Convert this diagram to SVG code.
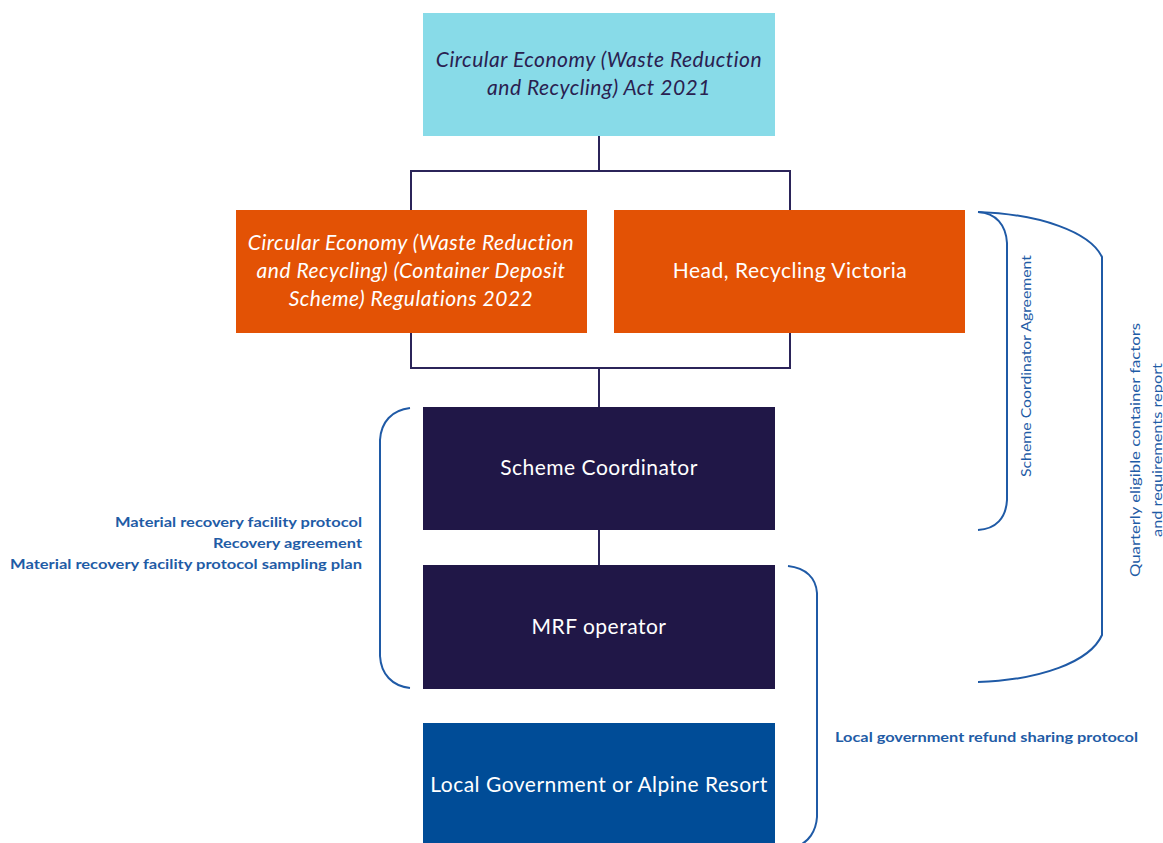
<svg xmlns="http://www.w3.org/2000/svg" width="1163" height="843" viewBox="0 0 1163 843">
  <style>
    .box-text { font-family: Lato, "Liberation Sans", sans-serif; font-size: 21px; letter-spacing: 0.5px; text-anchor: middle; }
    .italic { font-style: italic; }
    .light { fill: #ffffff; }
    .dark { fill: #2a2150; }
    .link { fill: none; stroke: #2b2459; stroke-width: 2; }
    .brace { fill: none; stroke: #1f5aa6; stroke-width: 2; }
    .label { font-family: Lato, "Liberation Sans", sans-serif; font-size: 14px; fill: #1f5ca6; }
    .bold { font-weight: bold; }
  </style>

  <!-- connectors between nodes -->
  <g id="connectors">
    <path class="link" d="M599 136 V171 M411 210 V171 H790 V210"/>
    <path class="link" d="M411 333 V368 H790 V333 M599 368 V407"/>
    <path class="link" d="M599 530 V565"/>
  </g>

  <g id="act">
    <rect x="423" y="13" width="352" height="123" fill="#88dbe8"/>
    <text class="box-text italic dark" x="599" y="67">Circular Economy (Waste Reduction</text>
    <text class="box-text italic dark" x="599" y="95">and Recycling) Act 2021</text>
  </g>

  <g id="regulations">
    <rect x="236" y="210" width="351" height="123" fill="#e35205"/>
    <text class="box-text italic light" x="411" y="250">Circular Economy (Waste Reduction</text>
    <text class="box-text italic light" x="411" y="278">and Recycling) (Container Deposit</text>
    <text class="box-text italic light" x="411" y="306">Scheme) Regulations 2022</text>
  </g>

  <g id="head">
    <rect x="614" y="210" width="351" height="123" fill="#e35205"/>
    <text class="box-text light" x="790" y="278">Head, Recycling Victoria</text>
  </g>

  <g id="coordinator">
    <rect x="423" y="407" width="352" height="123" fill="#201747"/>
    <text class="box-text light" x="599" y="475">Scheme Coordinator</text>
  </g>

  <g id="mrf">
    <rect x="423" y="565" width="352" height="124" fill="#201747"/>
    <text class="box-text light" x="599" y="634">MRF operator</text>
  </g>

  <g id="local-government">
    <rect x="423" y="723" width="352" height="130" fill="#004c97"/>
    <text class="box-text light" x="599" y="792">Local Government or Alpine Resort</text>
  </g>

  <!-- braces with their agreement labels -->
  <g id="mrf-agreements">
    <path class="brace" d="M410 408 C392 410 381 422 380 440 V656 C381 674 392 686 410 688"/>
    <text class="label bold" text-anchor="end" x="362" y="527" textLength="247" lengthAdjust="spacingAndGlyphs">Material recovery facility protocol</text>
    <text class="label bold" text-anchor="end" x="362" y="548" textLength="149" lengthAdjust="spacingAndGlyphs">Recovery agreement</text>
    <text class="label bold" text-anchor="end" x="362" y="569" textLength="352" lengthAdjust="spacingAndGlyphs">Material recovery facility protocol sampling plan</text>
  </g>

  <g id="coordinator-agreement">
    <path class="brace" d="M978 212 C996 213 1006 225 1007 243 V500 C1006 518 996 529 978 530"/>
    <text class="label" text-anchor="middle" transform="translate(1031 366) rotate(-90)" font-size="15.5" textLength="222" lengthAdjust="spacingAndGlyphs">Scheme Coordinator Agreement</text>
  </g>

  <g id="quarterly-report">
    <path class="brace" d="M978 212 C1040 214 1090 232 1102 257 V635 C1090 662 1040 680 978 682"/>
    <text class="label" text-anchor="middle" transform="translate(1140 450) rotate(-90)" font-size="14.5" textLength="254" lengthAdjust="spacingAndGlyphs">Quarterly eligible container factors</text>
    <text class="label" text-anchor="middle" transform="translate(1162 450) rotate(-90)" font-size="14.5" textLength="174" lengthAdjust="spacingAndGlyphs">and requirements report</text>
  </g>

  <g id="refund-protocol">
    <path class="brace" d="M788 566 C806 568 816 578 817 593 V817 C816 832 808 842 798 846"/>
    <text class="label bold" x="835" y="742" textLength="303" lengthAdjust="spacingAndGlyphs">Local government refund sharing protocol</text>
  </g>
</svg>
